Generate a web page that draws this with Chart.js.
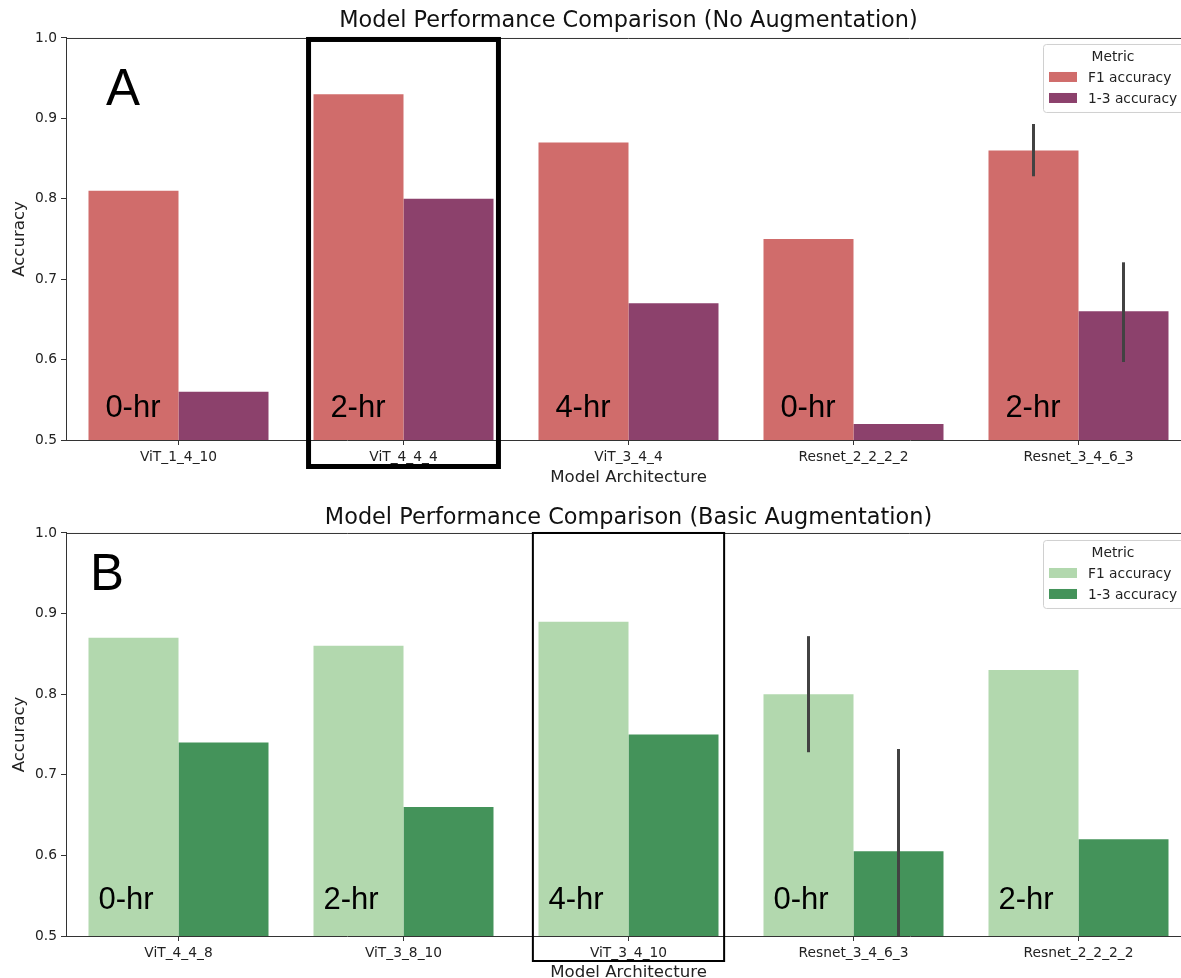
<!DOCTYPE html>
<html>
<head>
<meta charset="utf-8">
<script src="https://cdn.jsdelivr.net/npm/chart.js@4.4.1/dist/chart.umd.min.js"></script>
<style>
  html, body { margin: 0; padding: 0; background: #fff; width: 1181px; height: 978px; overflow: hidden; }
  .panel { position: absolute; left: 0; width: 1200px; }
  #panelA { top: 0; height: 490px; }
  #panelB { top: 488px; height: 500px; }
</style>
</head>
<body>
<div class="panel" id="panelA"><canvas id="chartA"></canvas></div>
<div class="panel" id="panelB"><canvas id="chartB"></canvas></div>
<script>
// --- panel A: no augmentation ---
const modelsA = ['ViT_1_4_10', 'ViT_4_4_4', 'ViT_3_4_4', 'Resnet_2_2_2_2', 'Resnet_3_4_6_3'];
const f1A = [0.81, 0.93, 0.87, 0.75, 0.86];
const top3A = [0.56, 0.80, 0.67, 0.52, 0.66];
const f1ErrA = [null, null, null, null, [0.828, 0.893]];
const top3ErrA = [null, null, null, null, [0.597, 0.721]];
const hoursA = ['0-hr', '2-hr', '4-hr', '0-hr', '2-hr'];

// --- panel B: basic augmentation ---
const modelsB = ['ViT_4_4_8', 'ViT_3_8_10', 'ViT_3_4_10', 'Resnet_3_4_6_3', 'Resnet_2_2_2_2'];
const f1B = [0.87, 0.86, 0.89, 0.80, 0.83];
const top3B = [0.74, 0.66, 0.75, 0.605, 0.62];
const f1ErrB = [null, null, null, [0.728, 0.872], null];
const top3ErrB = [null, null, null, [0.47, 0.732], null];
const hoursB = ['0-hr', '2-hr', '4-hr', '0-hr', '2-hr'];

const metricNames = ['F1 accuracy', '1-3 accuracy'];
const yTicks = [0.5, 0.6, 0.7, 0.8, 0.9, 1.0];

const AXIS_FONT = 'DejaVu Sans';
const NOTE_FONT = 'Liberation Sans, Arial, sans-serif';
const SPINE = '#333';

// extra drawing: error bars, hour notes, panel letter, top spine, legend, highlight box
const extras = {
  id: 'extras',
  afterDatasetsDraw(chart, args, opts) {
    const { ctx, chartArea: area, scales: { x, y } } = chart;

    // error bars, clipped to the plot area
    ctx.save();
    ctx.beginPath();
    ctx.rect(area.left, area.top, area.right - area.left, area.bottom - area.top);
    ctx.clip();
    ctx.strokeStyle = '#424242';
    ctx.lineWidth = 3;
    opts.errors.forEach((errs, ds) => {
      const meta = chart.getDatasetMeta(ds);
      errs.forEach((e, i) => {
        if (!e) return;
        const bx = meta.data[i].x;
        ctx.beginPath();
        ctx.moveTo(bx, y.getPixelForValue(e[0]));
        ctx.lineTo(bx, y.getPixelForValue(e[1]));
        ctx.stroke();
      });
    });
    ctx.restore();

    ctx.save();
    // hour notes inside the F1 bars
    ctx.fillStyle = '#000';
    ctx.font = '31px ' + NOTE_FONT;
    ctx.textBaseline = 'alphabetic';
    ctx.textAlign = 'left';
    const step = x.getPixelForValue(1) - x.getPixelForValue(0);
    opts.hours.forEach((h, i) => {
      ctx.fillText(h, x.getPixelForValue(i) + opts.hourShift * step, y.getPixelForValue(opts.hourY));
    });

    // panel letter
    ctx.font = '51px ' + NOTE_FONT;
    ctx.fillText(opts.letter, area.left + opts.letterDx, area.top + opts.letterDy);

    // top spine
    ctx.strokeStyle = SPINE;
    ctx.lineWidth = 1;
    ctx.beginPath();
    ctx.moveTo(area.left, area.top + 0.5);
    ctx.lineTo(area.right, area.top + 0.5);
    ctx.stroke();

    // legend
    const lx = area.right - 148, ly = area.top + opts.legendDy;
    ctx.fillStyle = 'rgba(255,255,255,0.8)';
    ctx.strokeStyle = '#d0d0d0';
    ctx.beginPath();
    ctx.roundRect(lx + 0.5, ly + 0.5, 150, 68, 3);
    ctx.fill();
    ctx.stroke();
    ctx.fillStyle = '#222';
    ctx.font = '13.8px ' + AXIS_FONT;
    ctx.textAlign = 'center';
    ctx.textBaseline = 'middle';
    ctx.fillText('Metric', lx + 70, ly + 13);
    ctx.textAlign = 'left';
    chart.data.datasets.forEach((ds, k) => {
      const ry = ly + 33 + k * 21;
      ctx.fillStyle = ds.backgroundColor;
      ctx.fillRect(lx + 6, ry - 5, 28, 10);
      ctx.fillStyle = '#222';
      ctx.fillText(ds.label, lx + 45, ry + 1);
    });

    // highlighted model
    const hb = opts.highlight;
    const cx = x.getPixelForValue(hb.index);
    ctx.strokeStyle = '#000';
    ctx.lineWidth = hb.width;
    ctx.strokeRect(cx - hb.half * step, area.top + hb.width / 2 - 1,
      2 * hb.half * step, area.bottom - area.top + hb.below);
    ctx.restore();
  }
};

function makeChart(id, models, f1, top3, f1Err, top3Err, colors, title, titlePad, axisH, note) {
  return new Chart(document.getElementById(id), {
    type: 'bar',
    data: {
      labels: models,
      datasets: [
        { label: metricNames[0], data: f1, backgroundColor: colors[0] },
        { label: metricNames[1], data: top3, backgroundColor: colors[1] }
      ]
    },
    options: {
      responsive: true,
      maintainAspectRatio: false,
      animation: false,
      layout: { padding: { left: 0, right: 9, top: 0, bottom: 0 } },
      datasets: { bar: { categoryPercentage: 0.8, barPercentage: 1.0, borderWidth: 0 } },
      scales: {
        x: {
          afterFit: s => { s.height = axisH; },
          grid: { display: true, offset: false, drawOnChartArea: false, tickLength: 5, tickColor: SPINE },
          border: { display: true, color: SPINE, width: 1 },
          ticks: { color: '#222', font: { family: AXIS_FONT, size: 13.8 }, padding: 4, maxRotation: 0 },
          title: { display: true, text: 'Model Architecture', color: '#222',
                   font: { family: AXIS_FONT, size: 16.6 }, padding: { top: 0, bottom: note.xTitlePad } }
        },
        y: {
          min: 0.5, max: 1.0,
          afterFit: s => { s.width = 66; },
          afterBuildTicks: s => { s.ticks = yTicks.map(v => ({ value: v })); },
          grid: { display: true, drawOnChartArea: false, tickLength: 5, tickColor: SPINE },
          border: { display: true, color: SPINE, width: 1 },
          ticks: { color: '#222', font: { family: AXIS_FONT, size: 13.8 }, padding: 4,
                   callback: v => v.toFixed(1) },
          title: { display: true, text: 'Accuracy', color: '#222',
                   font: { family: AXIS_FONT, size: 16.6 }, padding: { top: 10, bottom: 0 } }
        }
      },
      plugins: {
        legend: { display: false },
        tooltip: { enabled: false },
        title: {
          display: true, text: title, fullSize: false, color: '#111',
          font: { family: AXIS_FONT, size: 22.4, weight: 'normal' },
          padding: titlePad
        },
        extras: {
          errors: [f1Err, top3Err],
          hours: note.hours, hourY: note.hourY, hourShift: note.hourShift,
          letter: note.letter, letterDx: note.letterDx, letterDy: note.letterDy,
          legendDy: note.legendDy, highlight: note.highlight
        }
      }
    },
    plugins: [extras]
  });
}

makeChart('chartA', modelsA, f1A, top3A, f1ErrA, top3ErrA, ['#d06c6b', '#8c416c'],
  'Model Performance Comparison (No Augmentation)', { top: 7.6, bottom: 3.5 }, 50,
  { hours: hoursA, hourY: 0.528, hourShift: -0.325, letter: 'A', letterDx: 40, letterDy: 67,
    legendDy: 6, xTitlePad: 2, highlight: { index: 1, half: 0.422, width: 5, below: 25 } });

makeChart('chartB', modelsB, f1B, top3B, f1ErrB, top3ErrB, ['#b2d8ae', '#44935a'],
  'Model Performance Comparison (Basic Augmentation)', { top: 16.6, bottom: 1.5 }, 52,
  { hours: hoursB, hourY: 0.533, hourShift: -0.356, letter: 'B', letterDx: 24, letterDy: 57,
    legendDy: 7, xTitlePad: 5, highlight: { index: 2, half: 0.425, width: 2, below: 25 } });
</script>
</body>
</html>
